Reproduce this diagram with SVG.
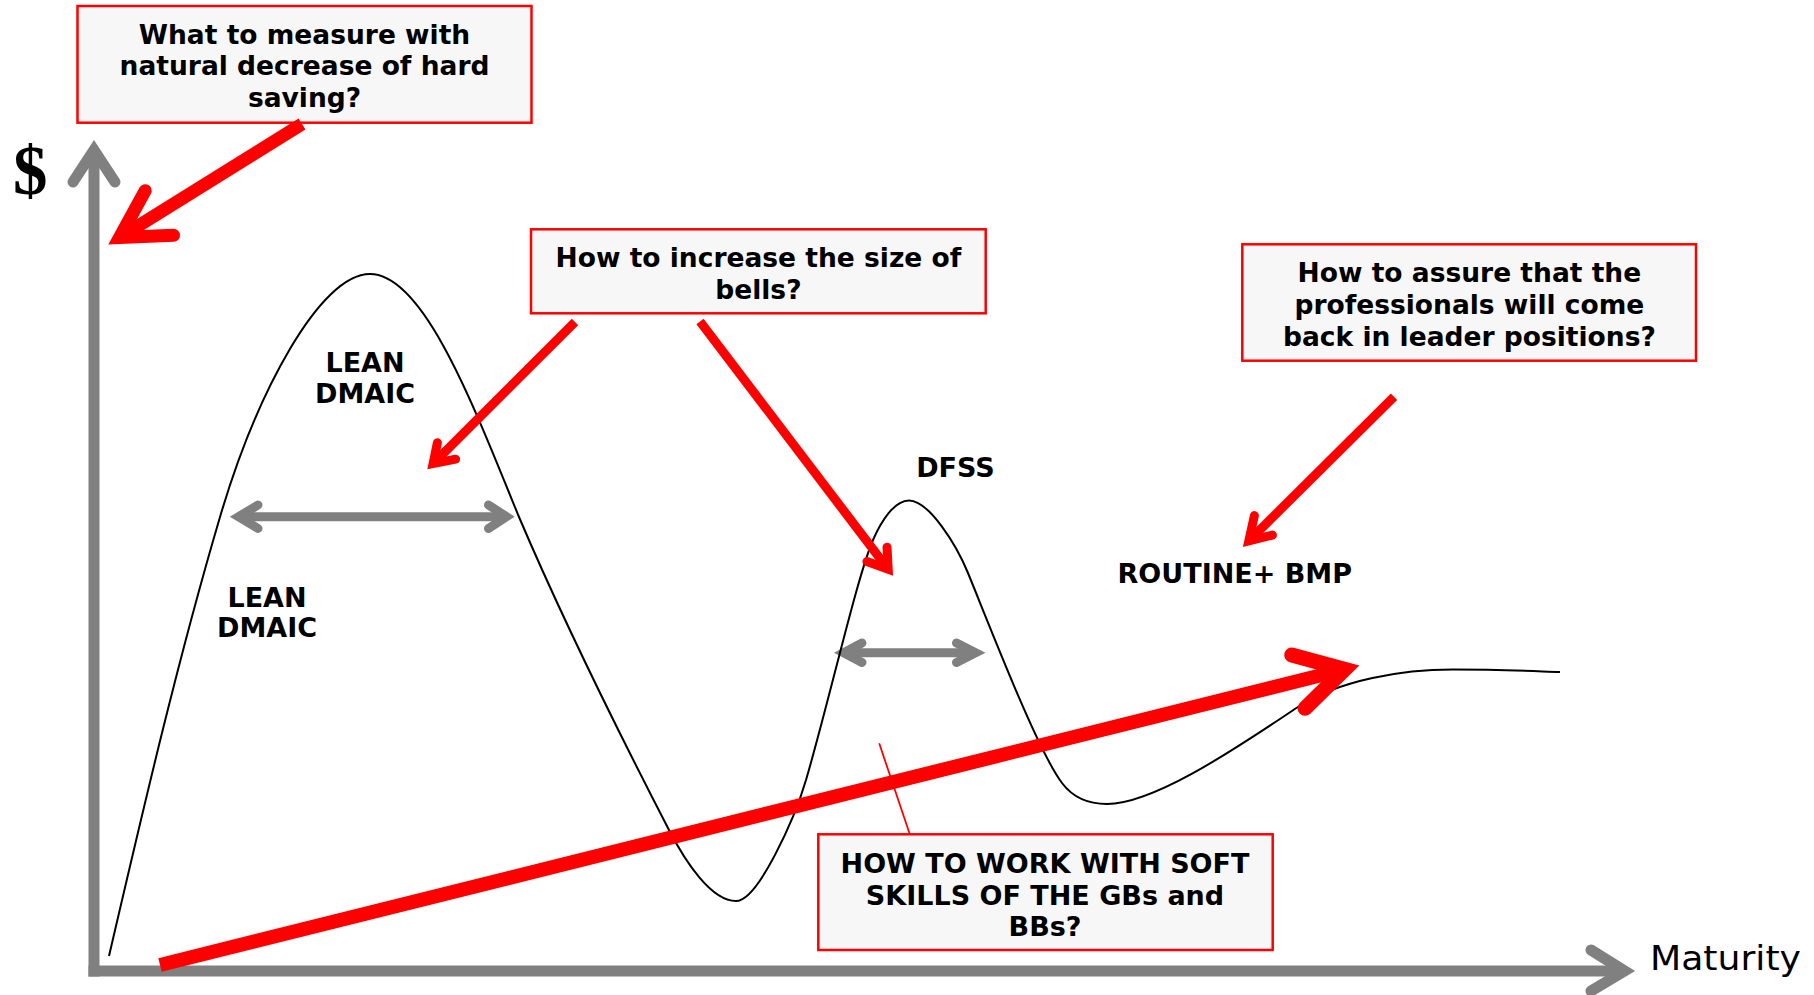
<svg xmlns="http://www.w3.org/2000/svg" width="1814" height="995" viewBox="0 0 1814 995">
  <style>
    .box { fill: #f7f7f7; stroke: #ff0000; stroke-width: 2.5; }
    .q { font-family: "DejaVu Sans", "Verdana", sans-serif; font-weight: bold; font-size: 26.5px; fill: #000; text-anchor: middle; }
    .caps { font-size: 27px; }
    .lbl { font-family: "DejaVu Sans", "Verdana", sans-serif; font-weight: bold; font-size: 27px; fill: #000; text-anchor: middle; }
    .axis { fill: none; stroke: #808080; stroke-width: 11; }
    .axis-head { fill: none; stroke: #808080; stroke-width: 11; stroke-linecap: round; stroke-linejoin: miter; stroke-miterlimit: 10; }
    .span { fill: none; stroke: #808080; stroke-width: 9; }
    .span-head { fill: none; stroke: #808080; stroke-width: 9; stroke-linecap: round; stroke-linejoin: miter; stroke-miterlimit: 10; }
    .curve { fill: none; stroke: #000; stroke-width: 2; }
    .red { fill: none; stroke: #ff0000; stroke-linecap: butt; }
    .red-head { fill: none; stroke: #ff0000; stroke-linecap: round; stroke-linejoin: miter; stroke-miterlimit: 10; }
  </style>

  <!-- axes -->
  <g id="axes">
    <line class="axis" x1="94" y1="976.5" x2="94" y2="152"/>
    <polyline class="axis-head" points="73,182 94,150 115,182"/>
    <line class="axis" x1="88.5" y1="971" x2="1622" y2="971"/>
    <polyline class="axis-head" points="1591,950 1624.6,971 1591,991"/>
    <text x="13" y="194" font-family="'Liberation Serif', 'Times New Roman', serif" font-weight="bold" font-size="69" fill="#000">$</text>
    <text x="1650" y="970" font-family="'DejaVu Sans', 'Verdana', sans-serif" font-size="34" fill="#000" textLength="151" lengthAdjust="spacingAndGlyphs">Maturity</text>
  </g>

  <!-- width markers under the bells -->
  <g id="spans">
    <line class="span" x1="240" y1="516.7" x2="505" y2="516.7"/>
    <polyline class="span-head" points="258,505 238.5,516.7 258,528.5"/>
    <polyline class="span-head" points="488.5,505 506.5,516.7 488.5,528.5"/>
    <line class="span" x1="845" y1="652.7" x2="974" y2="652.7"/>
    <polyline class="span-head" points="862,643 843.6,652.7 862,662.5"/>
    <polyline class="span-head" points="956.5,643 975.6,652.7 956.5,662.5"/>
  </g>

  <!-- maturity curve: two bells then a plateau -->
  <g id="curve">
    <path class="curve" d="M109,956
      C143,810 177.5,661 220,517
      C256.8,392.3 320,274 370,274
      C424,274 474,406.8 519,517
      C562,618 618.4,732 669,830
      C685,861 711,901 736,901
      C758,901 794.7,818.4 806,780
      C828.6,703.3 857,576.7 873,540
      C881,521.7 894,500.5 909,500.5
      C929,500.5 956.7,545.2 968,573
      C994.4,637.8 1038,751 1062,783
      C1074,799 1089,804 1107,804
      C1157,804 1247.8,740 1298,707
      C1339.8,679.6 1403,669.5 1453,669.5
      C1500,669.5 1530,671 1560,672"/>
  </g>

  <!-- labels on the curve -->
  <g id="label-lean-top">
    <text class="lbl" x="365" y="371.7">LEAN</text>
    <text class="lbl" x="365" y="402.7">DMAIC</text>
  </g>
  <g id="label-lean-bottom">
    <text class="lbl" x="267" y="606.7">LEAN</text>
    <text class="lbl" x="267" y="637">DMAIC</text>
  </g>
  <g id="label-dfss">
    <text class="lbl" x="955.4" y="476.7">DFSS</text>
  </g>
  <g id="label-routine">
    <text class="lbl" x="1234.8" y="582.7">ROUTINE+ BMP</text>
  </g>

  <!-- question boxes -->
  <g id="q-measure">
    <rect class="box" x="77.5" y="6" width="454" height="116.7"/>
    <text class="q" x="304.5" y="43.5">What to measure with</text>
    <text class="q" x="304.5" y="75">natural decrease of hard</text>
    <text class="q" x="304.5" y="106.5">saving?</text>
  </g>
  <g id="q-bells">
    <rect class="box" x="531" y="229.3" width="454.7" height="84"/>
    <text class="q" x="758.4" y="266.7">How to increase the size of</text>
    <text class="q" x="758.4" y="299.3">bells?</text>
  </g>
  <g id="q-leaders">
    <rect class="box" x="1242.3" y="244.3" width="453.7" height="116.4"/>
    <text class="q" x="1469.4" y="282.3">How to assure that the</text>
    <text class="q" x="1469.4" y="314">professionals will come</text>
    <text class="q" x="1469.4" y="345.7">back in leader positions?</text>
  </g>
  <g id="q-soft-skills">
    <rect class="box" x="818.3" y="834.3" width="454.4" height="115.7"/>
    <text class="q caps" x="1045" y="873.3">HOW TO WORK WITH SOFT</text>
    <text class="q caps" x="1045" y="904.5">SKILLS OF THE GBs and</text>
    <text class="q caps" x="1045" y="935.5">BBs?</text>
  </g>

  <!-- connectors -->
  <g id="connectors">
    <!-- measure box to $ axis -->
    <line class="red" stroke-width="13" x1="302" y1="124" x2="122" y2="236"/>
    <polyline class="red-head" stroke-width="13" points="145.2,190.7 119.5,237.6 173.5,235.3"/>
    <!-- bells box to first bell -->
    <line class="red" stroke-width="9" x1="575" y1="322" x2="435.5" y2="461.2"/>
    <polyline class="red-head" stroke-width="9" points="437.4,442.7 433.1,463.6 455.6,459.2"/>
    <!-- bells box to second bell -->
    <line class="red" stroke-width="9" x1="700" y1="321.5" x2="886.5" y2="567"/>
    <polyline class="red-head" stroke-width="9" points="887,547.2 888.2,569.2 866.9,561.5"/>
    <!-- leaders box to routine -->
    <line class="red" stroke-width="9" x1="1394" y1="396.8" x2="1251" y2="538.7"/>
    <polyline class="red-head" stroke-width="9" points="1254.4,515.6 1248.8,540.9 1272.4,535.1"/>
    <!-- maturity trend -->
    <line class="red" stroke-width="14" x1="160" y1="965" x2="1341" y2="670.3"/>
    <polyline class="red-head" stroke-width="15" points="1291.7,655 1344.7,669.4 1305,708.3"/>
    <!-- soft skills callout -->
    <line class="red" stroke-width="1.8" x1="879.2" y1="743.3" x2="909.8" y2="834.3"/>
  </g>
</svg>
